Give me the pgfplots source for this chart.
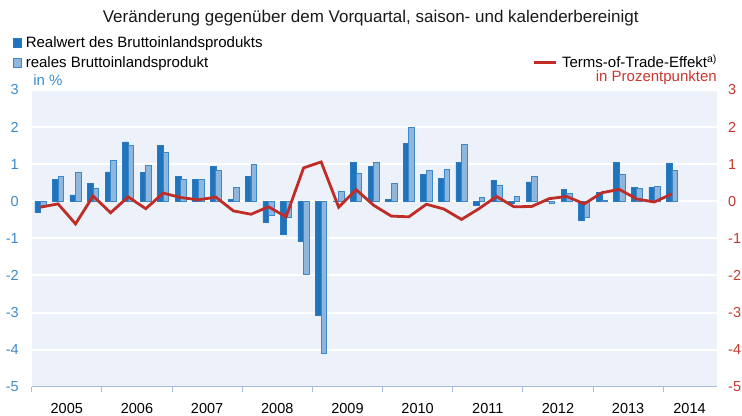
\documentclass[border=0pt]{standalone}
\usepackage{fontspec}
\setmainfont{Liberation Sans}
\usepackage{pgfplots}
\pgfplotsset{compat=1.18}
\usepackage{pgfplotstable}

\definecolor{bgc}{RGB}{236,241,250}
\definecolor{darkbar}{RGB}{32,116,188}
\definecolor{darkbarline}{RGB}{42,122,193}
\definecolor{lightbar}{RGB}{143,183,222}
\definecolor{lightbarline}{RGB}{62,135,200}
\definecolor{totred}{RGB}{192,45,38}
\definecolor{tickblue}{RGB}{58,138,204}
\definecolor{tickred}{RGB}{200,55,45}
\definecolor{axisc}{RGB}{168,188,226}

\pgfplotstableread{
i dark light tot
0 -0.30 -0.10 -0.16
1 0.58 0.66 -0.07
2 0.17 0.78 -0.61
3 0.48 0.36 0.14
4 0.79 1.10 -0.31
5 1.60 1.51 0.12
6 0.78 0.97 -0.20
7 1.51 1.32 0.22
8 0.67 0.59 0.10
9 0.60 0.59 0.04
10 0.94 0.84 0.11
11 0.05 0.38 -0.26
12 0.66 1.00 -0.35
13 -0.57 -0.38 -0.15
14 -0.88 -0.43 -0.42
15 -1.09 -1.96 0.90
16 -3.07 -4.10 1.06
17 0.01 0.27 -0.16
18 1.04 0.75 0.31
19 0.93 1.04 -0.11
20 0.06 0.49 -0.40
21 1.57 2.00 -0.42
22 0.73 0.83 -0.08
23 0.62 0.85 -0.21
24 1.04 1.54 -0.49
25 -0.10 0.11 -0.20
26 0.56 0.44 0.13
27 -0.05 0.12 -0.15
28 0.52 0.67 -0.14
29 0.01 -0.07 0.07
30 0.32 0.22 0.13
31 -0.52 -0.44 -0.07
32 0.24 0.02 0.23
33 1.04 0.73 0.32
34 0.38 0.34 0.06
35 0.38 0.40 -0.02
36 1.02 0.84 0.20
}\gdp

\pgfplotsset{
  sqlegend/.style={legend image code/.code={\draw[##1,/tikz/.cd,line width=0.8bp] (0bp,-4.5bp) rectangle (8bp,4.5bp);}},
  redlegend/.style={legend image code/.code={\draw[##1,/tikz/.cd] (0bp,0bp) -- (22bp,0bp);}},
}

\begin{document}
\begin{tikzpicture}
\path[use as bounding box] (0,0) rectangle (742bp,416bp);
\begin{axis}[
  at={(31.7bp,29.3bp)}, anchor=south west,
  width=685bp, height=296.7bp, scale only axis,
  xmin=-0.5, xmax=38.55, ymin=-5, ymax=3,
  axis x line*=bottom, axis y line*=left,
  x axis line style={draw=axisc, line width=1bp},
  y axis line style={draw=none},
  axis background/.style={fill=bgc},
  ymajorgrids, grid style={white, line width=2bp},
  ytick={-5,-4,-3,-2,-1,0,1,2,3},
  xtick={1.5,5.5,9.5,13.5,17.5,21.5,25.5,29.5,33.5,37.0},
  xticklabels={2005,2006,2007,2008,2009,2010,2011,2012,2013,2014},
  major tick length=0pt,
  extra x ticks={-0.5,3.5,7.5,11.5,15.5,19.5,23.5,27.5,31.5,35.5},
  extra x tick labels={},
  extra x tick style={major tick length=5bp, tick align=outside, major tick style={draw=axisc, line width=1bp}},
  /pgf/number format/assume math mode=true,
  xticklabel style={anchor=base, inner sep=0pt, yshift=-26.3bp, font=\fontsize{14.5bp}{17bp}\selectfont, text=black},
  yticklabel style={anchor=east, inner sep=0pt, xshift=-12.7bp, font=\fontsize{14.5bp}{17bp}\selectfont, text=tickblue},
  title={Veränderung gegenüber dem Vorquartal, saison- und kalenderbereinigt},
  every axis title/.style={at={(axis description cs:0.495,1.229)}, anchor=base, inner sep=0pt, font=\fontsize{17bp}{20bp}\selectfont, text=black!90},
  ylabel={in \%},
  every axis y label/.style={at={(axis description cs:0.002,1.014)}, anchor=base west, inner sep=0pt, font=\fontsize{15bp}{18bp}\selectfont, text=tickblue},
  legend style={at={(axis description cs:-0.0273,1.182)}, anchor=north west, draw=none, fill=none, inner sep=0pt, outer sep=0pt, row sep=6bp,
    font=\fontsize{15bp}{18bp}\selectfont, nodes={inner sep=0pt, text height=11bp, text depth=3bp},
    /tikz/every odd column/.append style={column sep=4bp}},
  legend cell align=left,
]
\addplot[ybar, bar width=5.6bp, bar shift=-2.8bp, fill=darkbar, draw=darkbarline, line width=0.6bp, sqlegend] table[x=i,y=dark]{\gdp};
\addlegendentry{Realwert des Bruttoinlandsprodukts}
\addplot[ybar, bar width=5.6bp, bar shift=2.8bp, fill=lightbar, draw=lightbarline, line width=0.8bp, sqlegend] table[x=i,y=light]{\gdp};
\addlegendentry{reales Bruttoinlandsprodukt}
\end{axis}
\begin{axis}[
  at={(31.7bp,29.3bp)}, anchor=south west,
  width=685bp, height=296.7bp, scale only axis,
  xmin=-0.5, xmax=38.55, ymin=-5, ymax=3,
  axis x line=none, axis y line*=right,
  y axis line style={draw=none},
  ytick={-5,-4,-3,-2,-1,0,1,2,3},
  major tick length=0pt,
  /pgf/number format/assume math mode=true,
  yticklabel style={anchor=west, inner sep=0pt, xshift=11.3bp, font=\fontsize{14.5bp}{17bp}\selectfont, text=tickred},
  ylabel={in Prozentpunkten},
  every axis y label/.style={at={(axis description cs:1.0004,1.029)}, anchor=base east, inner sep=0pt, font=\fontsize{15bp}{18bp}\selectfont, text=tickred},
  legend style={at={(axis description cs:1.0004,1.113)}, anchor=north east, draw=none, fill=none, inner sep=0pt, outer sep=0pt,
    font=\fontsize{15bp}{18bp}\selectfont, nodes={inner sep=0pt, text height=11bp, text depth=1bp},
    /tikz/every odd column/.append style={column sep=5bp}},
]
\addplot[totred, line width=2.8bp, sharp plot, redlegend] table[x=i,y=tot]{\gdp};
\addlegendentry{Terms-of-Trade-Effekt\textsuperscript{a)}}
\end{axis}
\end{tikzpicture}
\end{document}
